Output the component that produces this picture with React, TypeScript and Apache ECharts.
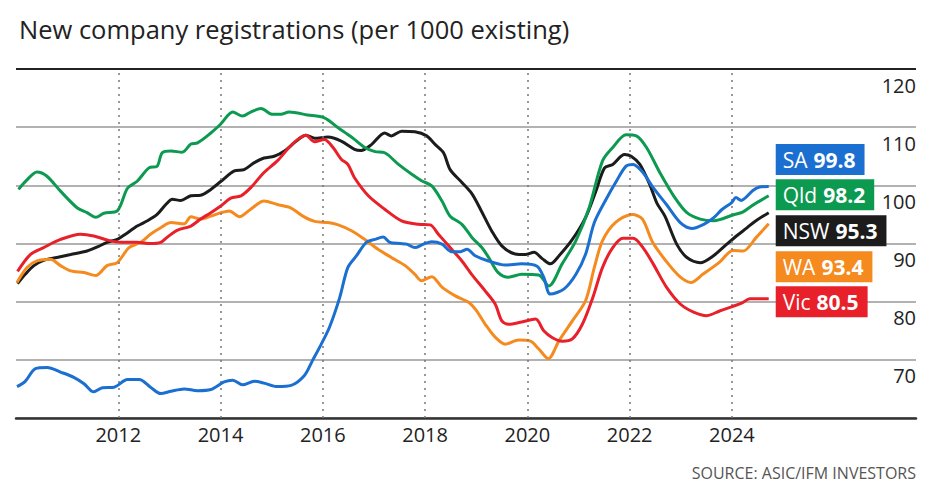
import React, { useEffect, useRef } from "react";
import * as echarts from "echarts";

const FONT = "'Open Sans', 'Noto Sans', sans-serif";

const saData: [number, number][] = [[2010.02,65.4],[2010.18,66.3],[2010.38,68.5],[2010.61,68.7],[2010.87,67.9],[2011.13,67.0],[2011.33,65.9],[2011.52,64.5],[2011.69,65.2],[2011.92,65.3],[2012.18,66.6],[2012.41,66.6],[2012.63,65.3],[2012.83,64.2],[2013.03,64.6],[2013.29,65.0],[2013.55,64.7],[2013.81,64.9],[2014.07,66.2],[2014.24,66.5],[2014.43,65.7],[2014.66,66.3],[2014.85,66.0],[2015.11,65.4],[2015.38,65.6],[2015.64,67.3],[2015.8,69.9],[2015.97,72.7],[2016.13,75.6],[2016.33,80.7],[2016.49,85.9],[2016.66,87.9],[2016.85,90.2],[2017.02,90.7],[2017.18,91.1],[2017.31,90.2],[2017.51,90.0],[2017.64,89.9],[2017.8,89.3],[2017.97,89.9],[2018.13,90.3],[2018.33,89.9],[2018.52,88.6],[2018.69,88.6],[2018.82,89.0],[2018.98,87.9],[2019.24,87.0],[2019.57,86.3],[2019.89,86.5],[2020.19,86.1],[2020.32,84.2],[2020.45,81.3],[2020.72,82.2],[2020.95,84.7],[2021.14,88.2],[2021.31,93.6],[2021.54,97.6],[2021.74,100.7],[2021.93,103.3],[2022.07,103.6],[2022.26,102.2],[2022.46,99.6],[2022.72,96.7],[2022.99,93.6],[2023.22,92.6],[2023.45,93.3],[2023.64,94.4],[2023.8,95.8],[2023.99,97.0],[2024.08,97.9],[2024.18,97.4],[2024.41,99.1],[2024.54,99.7],[2024.72,99.8]];

const qldData: [number, number][] = [[2010.05,99.3],[2010.2,100.8],[2010.41,102.3],[2010.6,101.6],[2010.87,99.0],[2011.2,96.1],[2011.39,95.3],[2011.56,94.5],[2011.72,95.2],[2011.98,95.6],[2012.18,99.5],[2012.37,100.7],[2012.6,103.0],[2012.76,103.3],[2012.86,105.6],[2013.03,105.9],[2013.25,105.7],[2013.42,107.1],[2013.55,107.3],[2013.81,109.0],[2014.0,110.5],[2014.24,112.6],[2014.43,111.9],[2014.59,112.6],[2014.79,113.2],[2015.02,112.2],[2015.18,112.2],[2015.34,112.6],[2015.7,112.1],[2016.03,111.6],[2016.3,109.9],[2016.56,108.3],[2016.82,106.5],[2017.02,105.8],[2017.21,105.6],[2017.48,103.6],[2017.74,101.9],[2017.93,100.8],[2018.13,99.9],[2018.33,97.3],[2018.49,94.7],[2018.72,93.3],[2018.92,91.0],[2019.11,89.3],[2019.25,87.5],[2019.43,85.0],[2019.63,84.2],[2019.89,84.7],[2020.22,84.6],[2020.42,82.7],[2020.68,86.5],[2020.95,90.5],[2021.21,96.2],[2021.47,104.2],[2021.67,106.5],[2021.93,108.7],[2022.13,108.5],[2022.33,106.5],[2022.59,102.2],[2022.86,98.2],[2023.12,95.3],[2023.38,94.2],[2023.64,93.9],[2023.76,94.1],[2024.02,94.9],[2024.21,95.4],[2024.41,96.6],[2024.72,98.2]];

const nswData: [number, number][] = [[2010.03,83.1],[2010.18,84.7],[2010.35,86.2],[2010.54,87.1],[2010.8,87.6],[2011.07,88.1],[2011.39,88.7],[2011.59,89.4],[2011.78,90.2],[2011.98,90.7],[2012.14,91.6],[2012.37,93.0],[2012.57,93.9],[2012.76,95.0],[2012.93,96.7],[2013.06,97.6],[2013.22,97.4],[2013.42,98.2],[2013.61,98.3],[2013.81,99.3],[2014.01,100.7],[2014.27,102.5],[2014.46,102.7],[2014.66,103.9],[2014.85,104.7],[2015.05,105.0],[2015.25,105.9],[2015.48,107.6],[2015.67,108.6],[2015.84,108.1],[2016.1,108.3],[2016.36,107.6],[2016.62,106.2],[2016.75,106.0],[2016.95,107.0],[2017.21,109.0],[2017.34,108.5],[2017.54,109.3],[2017.8,109.2],[2018.03,108.5],[2018.2,107.0],[2018.36,105.6],[2018.49,102.7],[2018.72,100.5],[2018.92,98.5],[2019.1,95.6],[2019.3,92.2],[2019.5,89.6],[2019.76,88.2],[2019.96,88.1],[2020.13,88.5],[2020.29,87.4],[2020.45,86.5],[2020.62,87.9],[2020.88,90.7],[2021.14,94.5],[2021.34,99.0],[2021.51,103.0],[2021.67,103.6],[2021.9,105.3],[2022.03,105.0],[2022.2,103.6],[2022.39,100.2],[2022.53,97.0],[2022.69,94.7],[2022.92,89.9],[2023.12,87.6],[2023.38,86.7],[2023.64,87.9],[2023.89,89.8],[2024.12,91.5],[2024.28,92.6],[2024.45,93.8],[2024.72,95.3]];

const waData: [number, number][] = [[2010.02,83.3],[2010.22,85.9],[2010.41,87.0],[2010.67,87.3],[2010.87,86.2],[2011.07,85.3],[2011.33,85.0],[2011.56,84.5],[2011.78,86.2],[2011.98,86.7],[2012.21,89.3],[2012.44,90.2],[2012.63,91.6],[2012.83,92.7],[2013.03,93.6],[2013.29,93.4],[2013.42,94.6],[2013.61,94.2],[2013.81,94.7],[2014.01,95.3],[2014.17,95.6],[2014.37,94.6],[2014.59,95.9],[2014.85,97.3],[2015.11,96.7],[2015.38,96.1],[2015.61,94.7],[2015.84,93.8],[2016.1,93.6],[2016.3,93.2],[2016.56,92.2],[2016.82,90.7],[2017.08,89.0],[2017.34,87.6],[2017.61,86.2],[2017.8,84.7],[2017.93,83.6],[2018.13,84.3],[2018.33,82.5],[2018.59,81.0],[2018.85,79.9],[2019.0,78.5],[2019.17,76.2],[2019.37,73.9],[2019.57,72.7],[2019.83,73.4],[2020.06,73.2],[2020.22,71.9],[2020.41,70.2],[2020.62,73.3],[2020.88,76.7],[2021.14,80.2],[2021.31,85.9],[2021.47,90.5],[2021.72,93.6],[2022.05,95.0],[2022.25,94.2],[2022.45,90.2],[2022.71,87.0],[2022.97,84.4],[2023.2,83.3],[2023.43,84.7],[2023.76,86.8],[2024.02,88.8],[2024.22,88.7],[2024.48,91.1],[2024.72,93.4]];

const vicData: [number, number][] = [[2010.03,85.2],[2010.28,88.1],[2010.54,89.3],[2010.87,90.7],[2011.26,91.6],[2011.52,91.3],[2011.78,90.6],[2012.05,90.2],[2012.37,90.2],[2012.63,90.0],[2012.83,90.2],[2012.96,91.1],[2013.16,92.3],[2013.42,93.0],[2013.61,94.2],[2013.81,95.3],[2014.01,96.5],[2014.2,97.8],[2014.4,98.2],[2014.59,99.6],[2014.85,102.2],[2015.11,104.2],[2015.34,106.5],[2015.51,107.9],[2015.67,108.6],[2015.84,107.5],[2016.03,107.9],[2016.2,106.5],[2016.36,104.5],[2016.49,103.6],[2016.62,101.3],[2016.89,98.2],[2017.21,95.9],[2017.54,93.9],[2017.87,93.3],[2018.1,93.2],[2018.26,91.6],[2018.49,89.3],[2018.72,87.0],[2018.91,84.7],[2019.17,81.9],[2019.37,79.6],[2019.5,76.7],[2019.63,76.1],[2019.89,76.5],[2020.16,77.0],[2020.32,75.0],[2020.49,73.8],[2020.68,73.2],[2020.88,73.6],[2021.08,76.2],[2021.28,80.7],[2021.47,85.9],[2021.67,89.3],[2021.87,90.9],[2022.07,90.9],[2022.26,89.3],[2022.46,86.5],[2022.72,82.5],[2022.99,79.6],[2023.25,78.2],[2023.51,77.6],[2023.76,78.4],[2024.02,79.2],[2024.2,79.8],[2024.35,80.5],[2024.72,80.5]];

const seriesNames = ["NSW", "WA", "Vic", "Qld", "SA"];
const seriesColors = ["#1c1c1c", "#f58a1f", "#e8202a", "#0b9a4f", "#1b6fd0"];
const latestValues = [95.3, 93.4, 80.5, 98.2, 99.8];
const labelOffsets: [number, number][] = [[0, 18], [0, 43], [0, 3], [0, -1], [0, -27]];
const seriesData = [nswData, waData, vicData, qldData, saData];

const yearLines = [2012, 2014, 2016, 2018, 2020, 2022, 2024];
const yTicks = [70, 80, 90, 100, 110, 120];

const TITLE = "New company registrations (per 1000 existing)";
const SOURCE = "SOURCE: ASIC/IFM INVESTORS";

export default function App() {
  const ref = useRef<HTMLDivElement>(null);
  useEffect(() => {
    if (!ref.current) return;
    const chart = echarts.init(ref.current, null, { renderer: "svg" });
    const lines = seriesNames.map((name, i) => ({
      name,
      type: "line",
      data: seriesData[i],
      showSymbol: false,
      symbol: "none",
      smooth: 0.3,
      z: 3 + i,
      lineStyle: { color: seriesColors[i], width: 3 },
      itemStyle: { color: seriesColors[i] },
      endLabel: {
        show: true,
        distance: 7,
        offset: labelOffsets[i],
        formatter: () => `{n|${name}}{b|${latestValues[i].toFixed(1)}}`,
        backgroundColor: seriesColors[i],
        padding: [4, 9, 3, 7],
        rich: {
          n: { fontSize: 21, color: "#fff", fontFamily: FONT, lineHeight: 24 },
          b: { fontSize: 21, color: "#fff", fontWeight: "bold", fontFamily: FONT, lineHeight: 24, padding: [0, 0, 0, 6] },
        },
      },
    }));
    chart.setOption({
      animation: false,
      backgroundColor: "#fff",
      title: {
        text: TITLE,
        left: 14,
        top: 11,
        textStyle: { fontFamily: FONT, fontSize: 25.5, fontWeight: "normal", color: "#222" },
      },
      graphic: [
        {
          type: "text",
          right: 10,
          top: 465,
          style: { text: SOURCE, fontFamily: FONT, fontSize: 16, fill: "#555" },
        },
      ],
      grid: { left: 16, right: 10, top: 69, bottom: 71 },
      xAxis: {
        type: "value",
        min: 2010,
        max: 2027.6,
        interval: 2,
        axisLine: { show: true, lineStyle: { color: "#333", width: 2.5 } },
        axisTick: { show: false },
        splitLine: { show: false },
        axisLabel: {
          margin: 6,
          fontFamily: FONT,
          fontSize: 20,
          color: "#222",
          showMinLabel: false,
          formatter: (v: number) => (v >= 2012 && v <= 2024 ? String(v) : ""),
        },
      },
      yAxis: {
        type: "value",
        position: "right",
        min: 60,
        max: 120,
        interval: 10,
        axisLine: { show: false },
        axisTick: { show: false },
        splitLine: {
          show: true,
          lineStyle: { color: ["#999", "#999", "#999", "#999", "#999", "#999", "#222"], width: 1.5 },
        },
        axisLabel: {
          inside: true,
          margin: 0,
          verticalAlign: "top",
          padding: [6, 0, 0, 0],
          fontFamily: FONT,
          fontSize: 20,
          color: "#222",
          formatter: (v: number) => (yTicks.includes(v) ? String(v) : ""),
        },
      },
      series: [
        {
          name: "_grid",
          type: "line",
          data: [],
          z: 1,
          silent: true,
          markLine: {
            silent: true,
            symbol: ["none", "none"],
            label: { show: false },
            lineStyle: { color: "#777", type: [2, 5], width: 1.5 },
            data: yearLines.map((y) => ({ xAxis: y })),
          },
        },
        {
          name: "_top",
          type: "line",
          data: [],
          z: 1,
          silent: true,
          markLine: {
            silent: true,
            symbol: ["none", "none"],
            label: { show: false },
            lineStyle: { color: "#222", type: "solid", width: 2 },
            data: [{ yAxis: 120 }],
          },
        },
        ...lines,
      ],
    });
    return () => chart.dispose();
  }, []);
  return (
    <div
      ref={ref}
      style={{ position: "fixed", left: 0, top: 0, width: 926, height: 489, background: "#fff" }}
    />
  );
}
